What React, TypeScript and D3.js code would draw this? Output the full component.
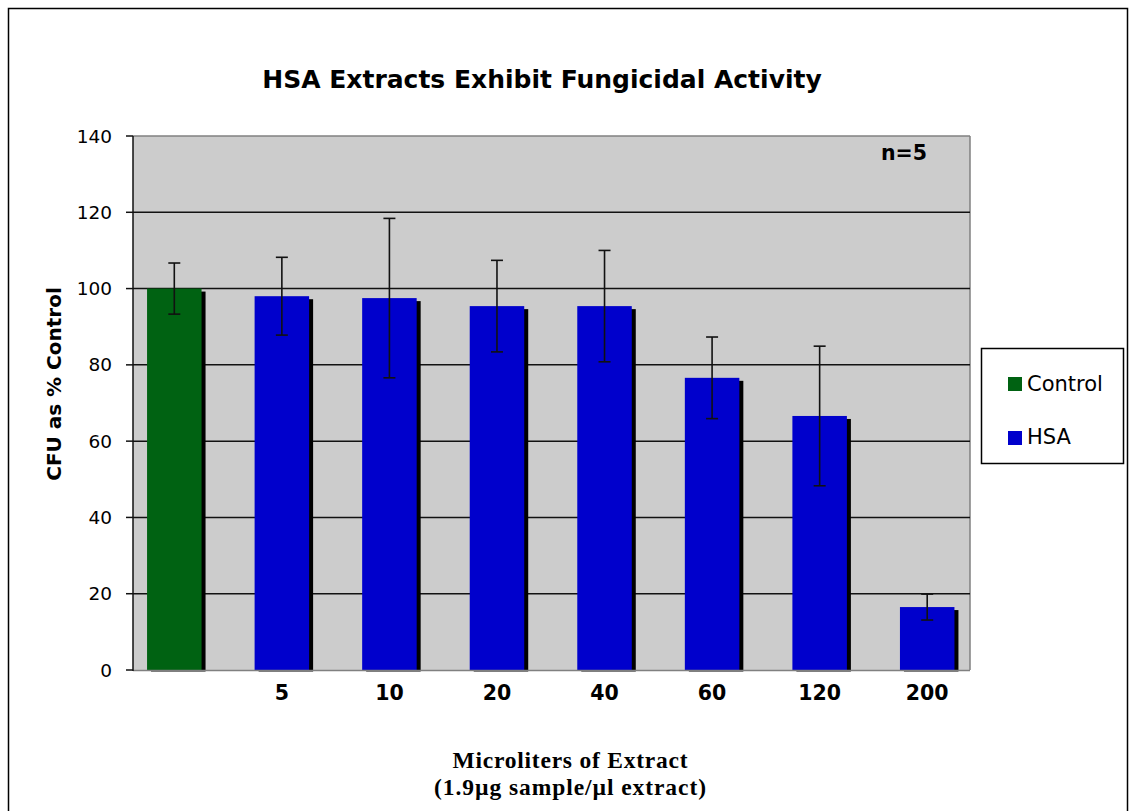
import React from "react";
import * as d3 from "d3";

const categories = ["Control", "5", "10", "20", "40", "60", "120", "200"];
const categoryLabels = ["", "5", "10", "20", "40", "60", "120", "200"];
const seriesOf = ["Control", "HSA", "HSA", "HSA", "HSA", "HSA", "HSA", "HSA"];
const values = [100, 98.0, 97.5, 95.4, 95.4, 76.6, 66.6, 16.5];
const errors = [6.7, 10.2, 20.9, 12.0, 14.6, 10.7, 18.3, 3.4];
const yTicks = [0, 20, 40, 60, 80, 100, 120, 140];
const legendItems = ["Control", "HSA"];
const colors: Record<string, string> = { Control: "#006212", HSA: "#0000CC" };

const W = 1130;
const H = 811;
const plot = { left: 133, right: 970, top: 136, bottom: 670 };

export default function App() {
  const x = d3.scalePoint<string>().domain(categories).range([174.3, 927.2]);
  const y = d3.scaleLinear().domain([0, 140]).range([plot.bottom, plot.top]);
  const bw = 54.5;
  const sans = "'DejaVu Sans', Verdana, sans-serif";
  const serif = "'Liberation Serif', 'Times New Roman', serif";

  return (
    <svg
      width={W}
      height={H}
      style={{ position: "absolute", left: 0, top: 0, background: "#fff" }}
    >
      <defs>
        <clipPath id="plotClip">
          <rect x={plot.left} y={plot.top} width={plot.right - plot.left} height={plot.bottom - plot.top + 1.5} />
        </clipPath>
      </defs>
      {/* outer border */}
      <rect x={8.5} y={8.5} width={1119} height={830} fill="#fff" stroke="#000" strokeWidth={1.5} />

      {/* title */}
      <text x={542} y={88} textAnchor="middle" fontFamily={sans} fontWeight="bold" fontSize={25} fill="#000">
        HSA Extracts Exhibit Fungicidal Activity
      </text>

      {/* plot area */}
      <rect x={plot.left} y={plot.top} width={plot.right - plot.left} height={plot.bottom - plot.top} fill="#CCCCCC" />
      <line x1={plot.left} x2={plot.right} y1={plot.top} y2={plot.top} stroke="#808080" strokeWidth={1.5} />
      <line x1={plot.right} x2={plot.right} y1={plot.top} y2={plot.bottom} stroke="#808080" strokeWidth={1.5} />

      {/* gridlines */}
      {yTicks.filter((t) => t > 0 && t < 140).map((t) => (
        <line key={"g" + t} x1={plot.left} x2={plot.right} y1={y(t)} y2={y(t)} stroke="#111" strokeWidth={1.5} />
      ))}

      {/* bars with shadows */}
      <g clipPath="url(#plotClip)">
        {categories.map((c, i) => (
          <rect key={"s" + c} x={(x(c) as number) - bw / 2 + 4} y={y(values[i]) + 3} width={bw} height={plot.bottom - y(values[i])} fill="#000" />
        ))}
      </g>
      {categories.map((c, i) => (
        <rect key={"b" + c} x={(x(c) as number) - bw / 2} y={y(values[i])} width={bw} height={plot.bottom - y(values[i])} fill={colors[seriesOf[i]]} />
      ))}

      {/* x axis line */}
      <line x1={plot.left} x2={plot.right} y1={plot.bottom + 0.5} y2={plot.bottom + 0.5} stroke="#808080" strokeWidth={1.5} />

      {/* error bars */}
      {categories.map((c, i) => {
        const cx = x(c) as number;
        const y1 = y(values[i] + errors[i]);
        const y2 = y(values[i] - errors[i]);
        return (
          <g key={"e" + c} stroke="#111" strokeWidth={1.6}>
            <line x1={cx} x2={cx} y1={y1} y2={y2} />
            <line x1={cx - 6} x2={cx + 6} y1={y1} y2={y1} />
            <line x1={cx - 6} x2={cx + 6} y1={y2} y2={y2} />
          </g>
        );
      })}

      {/* y axis */}
      <line x1={plot.left} x2={plot.left} y1={plot.top} y2={plot.bottom + 1} stroke="#111" strokeWidth={1.5} />
      {yTicks.map((t) => (
        <g key={"t" + t}>
          <line x1={plot.left - 7} x2={plot.left} y1={y(t)} y2={y(t)} stroke="#111" strokeWidth={1.5} />
          <text x={112} y={y(t) + 6.5} textAnchor="end" fontFamily={sans} fontSize={18.5} fill="#000">
            {t}
          </text>
        </g>
      ))}

      {/* category labels */}
      {categories.map((c, i) => (
        <text key={"l" + c} x={x(c) as number} y={700} textAnchor="middle" fontFamily={sans} fontWeight="bold" fontSize={20.5} fill="#000">
          {categoryLabels[i]}
        </text>
      ))}

      {/* y title */}
      <text transform={`translate(61,384) rotate(-90)`} textAnchor="middle" fontFamily={sans} fontWeight="bold" fontSize={20} fill="#000">
        CFU as % Control
      </text>

      {/* x title */}
      <text x={570} y={768} textAnchor="middle" fontFamily={serif} fontWeight="bold" fontSize={23.5} textLength={235} lengthAdjust="spacing" fill="#000">
        Microliters of Extract
      </text>
      <text x={570} y={795} textAnchor="middle" fontFamily={serif} fontWeight="bold" fontSize={23.5} textLength={272} lengthAdjust="spacing" fill="#000">
        (1.9µg sample/µl extract)
      </text>

      {/* n=5 */}
      <text x={881} y={160} fontFamily={sans} fontWeight="bold" fontSize={20.5} fill="#000">
        n=5
      </text>

      {/* legend */}
      <rect x={981.5} y={348.5} width={142} height={115} fill="#fff" stroke="#000" strokeWidth={1.5} />
      {legendItems.map((item, i) => (
        <g key={"lg" + item}>
          <rect x={1008} y={377 + i * 54} width={14} height={14} fill={colors[item]} />
          <text x={1027} y={391 + i * 53} fontFamily={sans} fontSize={21} fill="#000">
            {item}
          </text>
        </g>
      ))}
    </svg>
  );
}
